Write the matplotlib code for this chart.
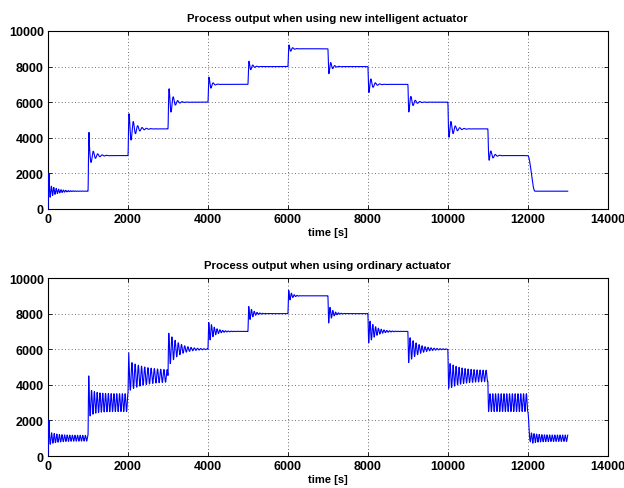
import numpy as np
import matplotlib
matplotlib.use("Agg")
import matplotlib.pyplot as plt

# ---- data ----
seg_starts = [0, 1000, 2000, 3000, 4000, 5000, 6000, 7000, 8000, 9000, 10000, 11000, 12000]
t_end = 13000
setpoints = [1000, 3000, 4500, 6000, 7000, 8000, 9000, 8000, 7000, 6000, 4500, 3000, 1000]

# intelligent actuator (top)
top_peak    = [2000, 4300, 5350, 6700, 7400, 8300, 9200, 7600, 6550, 5450, 4100, 2950, 1000]
top_ring    = [380, 600, 950, 1000, 500, 350, 300, 450, 550, 550, 650, 500, 0]
top_tau     = [200, 120, 130, 90, 60, 70, 60, 70, 90, 100, 120, 80, 100]
top_period  = [60, 110, 110, 110, 110, 100, 100, 100, 110, 110, 110, 110, 100]
top_sustain = [0, 0, 0, 0, 0, 0, 0, 0, 0, 0, 0, 0, 0]
top_rise    = [25, 25, 25, 25, 25, 25, 25, 25, 25, 25, 25, 25, 180]

# ordinary actuator (bottom)
bot_peak    = [2000, 4500, 5800, 6900, 7500, 8400, 9300, 7475, 6350, 5250, 3800, 2500, 850]
bot_ring    = [200, 300, 550, 950, 600, 450, 350, 500, 700, 750, 450, 0, 150]
bot_tau     = [200, 150, 400, 250, 150, 110, 80, 100, 180, 250, 300, 100, 150]
bot_period  = [65, 70, 80, 80, 70, 70, 70, 70, 70, 75, 75, 70, 65]
bot_sustain = [160, 500, 300, 0, 0, 0, 0, 0, 0, 0, 300, 500, 180]
bot_rise    = [25, 20, 20, 20, 20, 20, 20, 20, 20, 20, 20, 20, 60]

titles = ["Process output when using new intelligent actuator",
          "Process output when using ordinary actuator"]
xlabel = "time [s]"
xticks = [0, 2000, 4000, 6000, 8000, 10000, 12000, 14000]
yticks = [0, 2000, 4000, 6000, 8000, 10000]


def build(t, peaks, ring, tau, period, sustain, rise):
    y = np.zeros_like(t, dtype=float)
    prev = 0.0
    ends = seg_starts[1:] + [t_end + 1]
    for i, (t0, t1) in enumerate(zip(seg_starts, ends)):
        m = (t >= t0) & (t < t1)
        tt = t[m] - t0
        target = setpoints[i]
        A1 = peaks[i] - target
        s = np.sign(A1) if A1 != 0 else 1.0
        r = rise[i]
        seg = np.empty_like(tt, dtype=float)
        up = tt < r
        seg[up] = prev + (peaks[i] - prev) * (1 - np.cos(np.pi * tt[up] / r)) / 2
        u = tt[~up] - r
        env = (s * ring[i] * np.exp(-u / tau[i]) + s * sustain[i]
               + (A1 - s * ring[i] - s * sustain[i]) * np.exp(-u / 8.0))
        seg[~up] = target + env * np.cos(2 * np.pi * u / period[i])
        y[m] = seg
        prev = seg[-1]
    return y


t = np.arange(0, t_end + 1, 1.0)
y_top = build(t, top_peak, top_ring, top_tau, top_period, top_sustain, top_rise)
y_bot = build(t, bot_peak, bot_ring, bot_tau, bot_period, bot_sustain, bot_rise)

plt.rcParams['font.family'] = ['Liberation Sans', 'DejaVu Sans']
fig = plt.figure(figsize=(6.24, 4.89), dpi=100)
ax1 = fig.add_axes([0.0769, 0.5706, 0.897, 0.364])
ax2 = fig.add_axes([0.0769, 0.0654, 0.897, 0.364])

for ax, y, title in [(ax1, y_top, titles[0]), (ax2, y_bot, titles[1])]:
    ax.plot(t, y, color='#0000ff', lw=0.8, zorder=3)
    ax.set_xlim(0, 14000)
    ax.set_ylim(0, 10000)
    ax.set_xticks(xticks)
    ax.set_yticks(yticks)
    ax.tick_params(direction='in', length=3, top=True, right=True,
                   labelsize=9, width=0.6, pad=3)
    for lab in ax.get_xticklabels() + ax.get_yticklabels():
        lab.set_fontweight('bold')
    ax.grid(True, linestyle=(0, (1, 3)), color='#404040', lw=0.6)
    for sp in ax.spines.values():
        sp.set_linewidth(0.8)
    ax.set_title(title, fontsize=8.2, fontweight='bold', pad=7)
    ax.set_xlabel(xlabel, fontsize=8, fontweight='bold', labelpad=1)

fig.savefig("out.png", dpi=100)
